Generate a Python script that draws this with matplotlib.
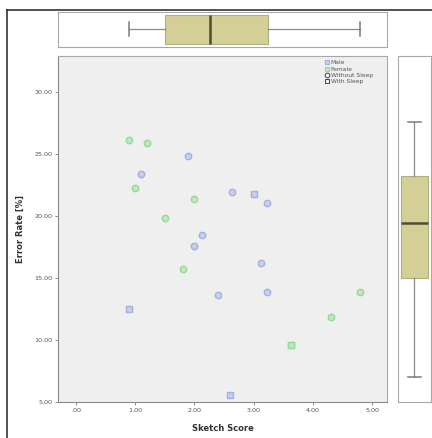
import matplotlib
matplotlib.use("Agg")
import matplotlib.pyplot as plt
from matplotlib.lines import Line2D

# Sketch score vs. error rate, split by gender and sleep condition
male_without_x = [1.90, 1.09, 2.64, 3.23, 2.13, 1.99, 3.13, 2.40, 3.23]
male_without_y = [24.81, 23.39, 21.89, 21.02, 18.44, 17.58, 16.19, 13.63, 13.82]
male_with_x = [3.00, 0.90, 2.60]
male_with_y = [21.75, 12.48, 5.52]
female_without_x = [0.89, 1.20, 1.00, 1.99, 1.50, 1.80, 4.79, 4.30]
female_without_y = [26.13, 25.84, 22.23, 21.37, 19.79, 15.73, 13.82, 11.85]
female_with_x = [3.63, 3.63]
female_with_y = [9.55, 9.60]

# Marginal box plot summaries (whisker low, Q1, median, Q3, whisker high)
score_box = [0.90, 1.50, 2.27, 3.24, 4.80]
error_box = [6.97, 15.00, 19.41, 23.20, 27.58]

x_ticks = [0, 1, 2, 3, 4, 5]
x_labels = [".00", "1.00", "2.00", "3.00", "4.00", "5.00"]
y_ticks = [5, 10, 15, 20, 25, 30]
y_labels = ["5.00", "10.00", "15.00", "20.00", "25.00", "30.00"]

blue_edge, blue_face = "#a6b0de", "#c8ceec"
green_edge, green_face = "#97d897", "#c0e8c0"
box_face = "#d3cf96"
frame = "#a8a8a8"

fig = plt.figure(figsize=(4.32, 4.38), dpi=100)
W, H = 432, 438


def rect(l, t, r, b):
    return [l / W, 1 - b / H, (r - l) / W, (b - t) / H]


ax = fig.add_axes(rect(58, 56, 387, 402))
ax_top = fig.add_axes(rect(58, 12, 387, 46.5))
ax_right = fig.add_axes(rect(398, 56, 430.5, 402))

ax.set_facecolor("#efefef")
ms = 4.6
ax.plot(male_without_x, male_without_y, "o", ms=ms, mfc=blue_face, mec=blue_edge, mew=1.0)
ax.plot(male_with_x, male_with_y, "s", ms=ms - 0.4, mfc=blue_face, mec=blue_edge, mew=1.0)
ax.plot(female_without_x, female_without_y, "o", ms=ms, mfc=green_face, mec=green_edge, mew=1.0)
ax.plot(female_with_x, female_with_y, "s", ms=ms - 0.4, mfc=green_face, mec=green_edge, mew=1.0)

ax.set_xlim(-0.304, 5.253)
ax.set_ylim(4.98, 32.88)
ax.set_xticks(x_ticks)
ax.set_xticklabels(x_labels)
ax.set_yticks(y_ticks)
ax.set_yticklabels(y_labels)
ax.tick_params(labelsize=4.6, length=2.5, width=0.6, color="#777777",
               labelcolor="#555555", pad=1.5)
for s in ax.spines.values():
    s.set_color(frame)
    s.set_linewidth(0.8)
ax.spines["left"].set_color("#888888")
ax.spines["bottom"].set_color("#888888")
ax.set_xlabel("Sketch Score", fontsize=6.0, fontweight="bold", color="#333333", labelpad=8)
ax.set_ylabel("Error Rate [%]", fontsize=6.0, fontweight="bold", color="#333333", labelpad=6.5)

handles = [
    Line2D([], [], ls="", marker="s", ms=3.4, mfc=blue_face, mec=blue_edge, mew=0.8),
    Line2D([], [], ls="", marker="s", ms=3.4, mfc=green_face, mec=green_edge, mew=0.8),
    Line2D([], [], ls="", marker="o", ms=3.4, mfc="none", mec="#444444", mew=0.7),
    Line2D([], [], ls="", marker="s", ms=3.4, mfc="none", mec="#444444", mew=0.7),
]
leg = ax.legend(handles, ["Male", "Female", "Without Sleep", "With Sleep"],
                loc="upper right", bbox_to_anchor=(0.97, 1.0), frameon=False,
                fontsize=4.3, handlelength=0.7, handletextpad=0.3,
                labelspacing=0.2, borderpad=0.2)
for t in leg.get_texts():
    t.set_color("#555555")


def draw_box(a, stats, vert):
    st = [{"whislo": stats[0], "q1": stats[1], "med": stats[2],
           "q3": stats[3], "whishi": stats[4], "fliers": []}]
    a.bxp(st, positions=[0], widths=0.84, vert=vert, patch_artist=True,
          showfliers=False,
          boxprops=dict(facecolor=box_face, edgecolor="#b0ad80", linewidth=0.8),
          medianprops=dict(color="#4e4c2e", linewidth=1.8),
          whiskerprops=dict(color="#8a8a8a", linewidth=0.9),
          capprops=dict(color="#7a7a7a", linewidth=1.1),
          capwidths=0.4)
    for s in a.spines.values():
        s.set_color(frame)
        s.set_linewidth(0.8)
    a.set_xticks([])
    a.set_yticks([])


draw_box(ax_top, score_box, vert=False)
ax_top.set_xlim(ax.get_xlim())
ax_top.set_ylim(-0.5, 0.5)

draw_box(ax_right, error_box, vert=True)
ax_right.set_ylim(ax.get_ylim())
ax_right.set_xlim(-0.5, 0.5)

# outer chart border
fig.add_artist(Line2D([7 / W, 7 / W], [0, 1 - 10 / H], color="#333333", lw=1.2))
fig.add_artist(Line2D([7 / W, 1], [1 - 10 / H, 1 - 10 / H], color="#333333", lw=1.2))

fig.savefig("out.png", dpi=100)
